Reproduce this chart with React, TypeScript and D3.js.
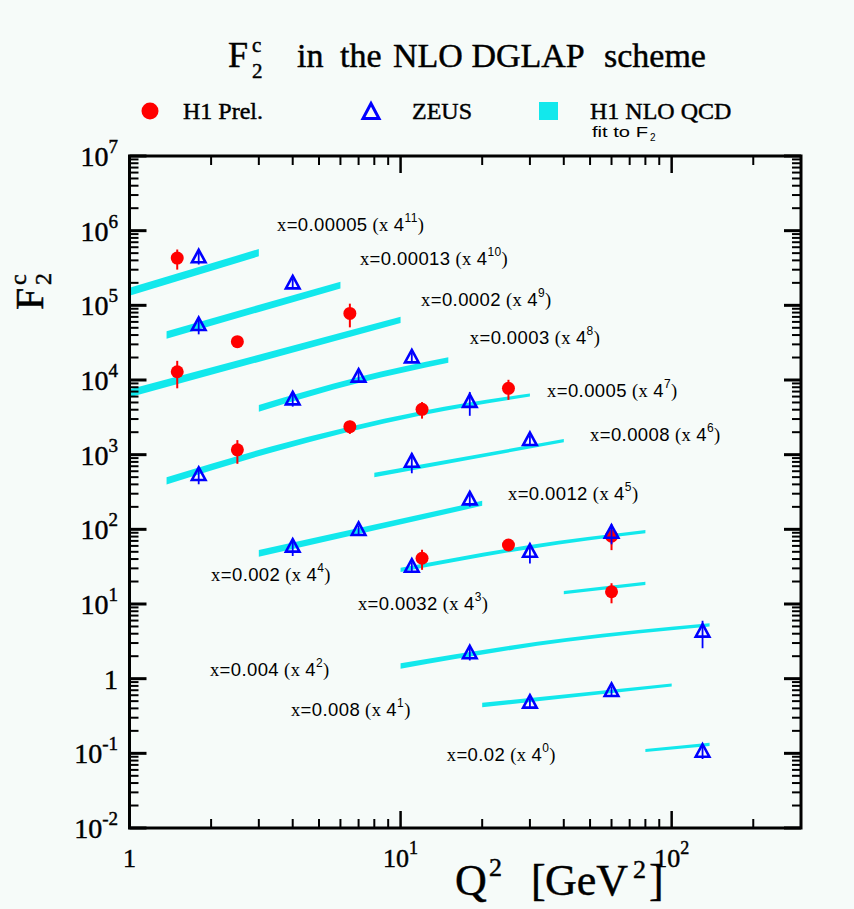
import React from "react";
import * as d3 from "d3";

// Bjorken-x bins and the 4^n offsets used to separate them vertically
const xBins = ["0.00005", "0.00013", "0.0002", "0.0003", "0.0005", "0.0008", "0.0012", "0.002", "0.0032", "0.004", "0.008", "0.02"];
const scalePowers = [11, 10, 9, 8, 7, 6, 5, 4, 3, 2, 1, 0];

// NLO QCD fit per bin: [Q2, F2c (as plotted, already x 4^n), relative half-width of band]
const fitCurves: number[][][] = [
  [[1.0, 1.52e5, 0.13], [3.0, 5.07e5, 0.12]],
  [[1.37, 4.0e4, 0.12], [6.0, 1.87e5, 0.11]],
  [[1.0, 6.64e3, 0.13], [10, 6.37e4, 0.1]],
  [[3.0, 4.18e3, 0.11], [7, 1.0e4, 0.1], [15, 1.85e4, 0.09]],
  [[1.37, 445, 0.12], [3.3, 1160, 0.1], [12, 3600, 0.07], [30, 6300, 0.05]],
  [[8, 535, 0.07], [40, 1540, 0.05]],
  [[3, 47.8, 0.11], [20, 223, 0.08]],
  [[10, 28.6, 0.07], [30, 58, 0.06], [80, 93, 0.05]],
  [[40, 14.2, 0.05], [80, 18.9, 0.05]],
  [[10, 1.48, 0.09], [41, 3.3, 0.06], [138, 5.24, 0.05]],
  [[20, 0.444, 0.07], [100, 0.822, 0.05]],
  [[80, 0.109, 0.05], [138, 0.132, 0.05]],
];

// H1 preliminary: [Q2, F2c (plotted), relative error]
const h1Points: number[][] = [
  [1.5, 4.3e5, 0.3],
  [1.5, 1.29e4, 0.4],
  [2.5, 3.26e4, 0.15],
  [6.5, 7.8e4, 0.35],
  [2.5, 1.16e3, 0.35],
  [6.5, 2.37e3, 0.2],
  [12, 4.05e3, 0.25],
  [25, 7.74e3, 0.3],
  [12, 41, 0.3],
  [25, 61.7, 0.15],
  [60, 81, 0.35],
  [60, 14.6, 0.3],
];

// ZEUS: [Q2, F2c (plotted), relative error]
const zeusPoints: number[][] = [
  [1.8, 4.4e5, 0.2],
  [1.8, 5.45e4, 0.25],
  [4, 1.97e5, 0.15],
  [4, 5.5e3, 0.2],
  [7, 1.11e4, 0.15],
  [11, 2.01e4, 0.15],
  [1.8, 535, 0.25],
  [18, 5.1e3, 0.35],
  [11, 805, 0.3],
  [30, 1.57e3, 0.15],
  [4, 58.6, 0.25],
  [7, 98, 0.15],
  [18, 252, 0.2],
  [11, 31.6, 0.15],
  [30, 50, 0.3],
  [60, 90, 0.3],
  [18, 2.19, 0.2],
  [130, 4.26, 0.4],
  [30, 0.477, 0.15],
  [60, 0.684, 0.15],
  [130, 0.105, 0.2],
];

// Where each bin label sits, in (Q2, F2c) coordinates
const labelAnchors: number[][] = [
  [3.5, 9.9e5],
  [7.08, 3.47e5],
  [11.9, 9.8e4],
  [18.0, 3.03e4],
  [34.7, 5.92e3],
  [50.0, 1.52e3],
  [24.9, 247],
  [2.0, 20.3],
  [6.96, 8.3],
  [1.98, 1.09],
  [3.94, 0.316],
  [14.8, 0.079],
];

const yTickPowers = [-2, -1, 0, 1, 2, 3, 4, 5, 6, 7];
const xTickPowers = [0, 1, 2];

const SERIF = "'Liberation Serif', 'Times New Roman', serif";
const SANS = "'Liberation Sans', Arial, sans-serif";
const CYAN = "#12e8ec";
const RED = "#ff0000";
const BLUE = "#0000ff";
const BG = "#f6fbf9";

// a faint outline gives the serif text a heavier, print-like weight
const heavy = { stroke: "#000", strokeWidth: 0.45 };

export default function App() {
  const W = 854;
  const H = 909;
  const x = d3.scaleLog().domain([1, 300]).range([129.5, 801]);
  const y = d3.scaleLog().domain([1e-2, 1e7]).range([828, 156]);
  const [x0, x1] = x.range();
  const [y0, y1] = [y.range()[1], y.range()[0]];

  const band = d3
    .area<number[]>()
    .x((d) => x(d[0]))
    .y0((d) => y(d[1] / (1 + d[2])))
    .y1((d) => y(d[1] * (1 + d[2])))
    .curve(d3.curveMonotoneX);

  // minor and major ticks
  const xMinor: number[] = [];
  for (let p = 0; p <= 2; p++) for (let k = 2; k <= 9; k++) { const v = k * 10 ** p; if (v < 300) xMinor.push(v); }
  const yMinor: number[] = [];
  for (let p = -2; p <= 6; p++) for (let k = 2; k <= 9; k++) yMinor.push(k * 10 ** p);

  const tri = "M0,-7.5 L6.8,5 L-6.8,5 Z";

  return (
    <svg width={W} height={H} style={{ position: "absolute", left: 0, top: 0 }} xmlns="http://www.w3.org/2000/svg">
      <rect x={0} y={0} width={W} height={H} fill={BG} />

      {/* title */}
      <text fontFamily={SERIF} fill="#000" {...heavy}>
        <tspan x={228} y={67} fontSize={36}>F</tspan>
        <tspan x={252} y={52} fontSize={21}>c</tspan>
        <tspan x={252} y={78} fontSize={21}>2</tspan>
        <tspan x={297} y={67} fontSize={34}>in</tspan>
        <tspan x={340} y={67} fontSize={34}>the</tspan>
        <tspan x={393} y={67} fontSize={34}>NLO DGLAP</tspan>
        <tspan x={604} y={67} fontSize={34}>scheme</tspan>
      </text>

      {/* legend */}
      <circle cx={150} cy={111} r={8.5} fill={RED} />
      <text x={183} y={119} fontFamily={SERIF} fontSize={24} {...heavy}>H1 Prel.</text>
      <path d="M0,-8.5 L8,6.5 L-8,6.5 Z" transform="translate(371,112)" fill="none" stroke={BLUE} strokeWidth={3} />
      <text x={412} y={119} fontFamily={SERIF} fontSize={24} {...heavy}>ZEUS</text>
      <rect x={539} y={102} width={19} height={18} fill={CYAN} />
      <text x={590} y={119} fontFamily={SERIF} fontSize={24} {...heavy}>H1 NLO QCD</text>
      <text x={592} y={137} fontFamily={SANS} fontSize={15} fill="#000" textLength={56} lengthAdjust="spacingAndGlyphs">fit to F</text>
      <text x={650} y={141} fontFamily={SANS} fontSize={10} fill="#000">2</text>

      {/* fit bands */}
      {fitCurves.map((c, i) => (
        <path key={"f" + i} d={band(c) || ""} fill={CYAN} stroke="none" />
      ))}

      {/* H1 points */}
      {h1Points.map((p, i) => (
        <g key={"h" + i}>
          <line x1={x(p[0])} x2={x(p[0])} y1={y(p[1] * (1 + p[2]))} y2={y(p[1] * (1 - p[2]))} stroke={RED} strokeWidth={2} />
          <circle cx={x(p[0])} cy={y(p[1])} r={6.5} fill={RED} />
        </g>
      ))}

      {/* ZEUS points */}
      {zeusPoints.map((p, i) => (
        <g key={"z" + i}>
          <line x1={x(p[0])} x2={x(p[0])} y1={y(p[1] * (1 + p[2]))} y2={y(p[1] * (1 - p[2]))} stroke={BLUE} strokeWidth={1.8} />
          <path d={tri} transform={`translate(${x(p[0])},${y(p[1])})`} fill="none" stroke={BLUE} strokeWidth={2.6} strokeLinejoin="miter" />
        </g>
      ))}

      {/* bin labels */}
      {labelAnchors.map((a, i) => (
        <text key={"l" + i} x={x(a[0])} y={y(a[1])} fontSize={18.5} letterSpacing={0.4} fill="#000">
          <tspan fontFamily={SERIF}>x</tspan>
          <tspan fontFamily={SANS}>{"=" + xBins[i]}</tspan>
          <tspan fontFamily={SERIF}>{" (x "}</tspan>
          <tspan fontFamily={SANS}>4</tspan>
          <tspan fontFamily={SANS} fontSize={12} dy={-9}>{String(scalePowers[i])}</tspan>
          <tspan fontFamily={SERIF} dy={9}>)</tspan>
        </text>
      ))}

      {/* frame ticks */}
      <g stroke="#000">
        {yMinor.map((v, i) => (
          <g key={"ym" + i}>
            <line x1={x0} x2={x0 + 9} y1={y(v)} y2={y(v)} strokeWidth={2} />
            <line x1={x1} x2={x1 - 9} y1={y(v)} y2={y(v)} strokeWidth={2} />
          </g>
        ))}
        {yTickPowers.map((p) => (
          <g key={"yM" + p}>
            <line x1={x0} x2={x0 + 17} y1={y(10 ** p)} y2={y(10 ** p)} strokeWidth={3} />
            <line x1={x1} x2={x1 - 17} y1={y(10 ** p)} y2={y(10 ** p)} strokeWidth={3} />
          </g>
        ))}
        {xMinor.map((v, i) => (
          <g key={"xm" + i}>
            <line x1={x(v)} x2={x(v)} y1={y1} y2={y1 - 9} strokeWidth={2} />
            <line x1={x(v)} x2={x(v)} y1={y0} y2={y0 + 9} strokeWidth={2} />
          </g>
        ))}
        {xTickPowers.map((p) => (
          <g key={"xM" + p}>
            <line x1={x(10 ** p)} x2={x(10 ** p)} y1={y1} y2={y1 - 17} strokeWidth={2.5} />
            <line x1={x(10 ** p)} x2={x(10 ** p)} y1={y0} y2={y0 + 17} strokeWidth={2.5} />
          </g>
        ))}
      </g>
      <rect x={x0} y={y0} width={x1 - x0} height={y1 - y0} fill="none" stroke="#000" strokeWidth={3} />

      {/* y tick labels */}
      {yTickPowers.map((p) => (
        <text key={"yl" + p} x={118} y={y(10 ** p) + 10} textAnchor="end" fontFamily={SERIF} fontSize={28} fill="#000" {...heavy}>
          {p === 0 ? "1" : (
            <>
              <tspan>10</tspan>
              <tspan fontSize={19} dy={-13}>{String(p)}</tspan>
            </>
          )}
        </text>
      ))}

      {/* x tick labels */}
      {xTickPowers.map((p) => (
        <text key={"xl" + p} x={x(10 ** p)} y={867} textAnchor="middle" fontFamily={SERIF} fontSize={26} fill="#000" {...heavy}>
          {p === 0 ? "1" : (
            <>
              <tspan>10</tspan>
              <tspan fontSize={18} dy={-13}>{String(p)}</tspan>
            </>
          )}
        </text>
      ))}

      {/* axis titles */}
      <text fontFamily={SERIF} fill="#000" {...heavy}>
        <tspan x={455} y={895} fontSize={44}>Q</tspan>
        <tspan x={489} y={876} fontSize={26}>2</tspan>
        <tspan x={531} y={895} fontSize={44}>[</tspan>
        <tspan x={545} y={895} fontSize={44}>GeV</tspan>
        <tspan x={633} y={878} fontSize={26}>2</tspan>
        <tspan x={649} y={895} fontSize={44}>]</tspan>
      </text>
      <text transform="translate(43,310) rotate(-90)" fontFamily={SERIF} fill="#000" {...heavy}>
        <tspan x={0} y={0} fontSize={40}>F</tspan>
        <tspan x={25} y={-17} fontSize={24}>c</tspan>
        <tspan x={25} y={8} fontSize={24}>2</tspan>
      </text>
    </svg>
  );
}
